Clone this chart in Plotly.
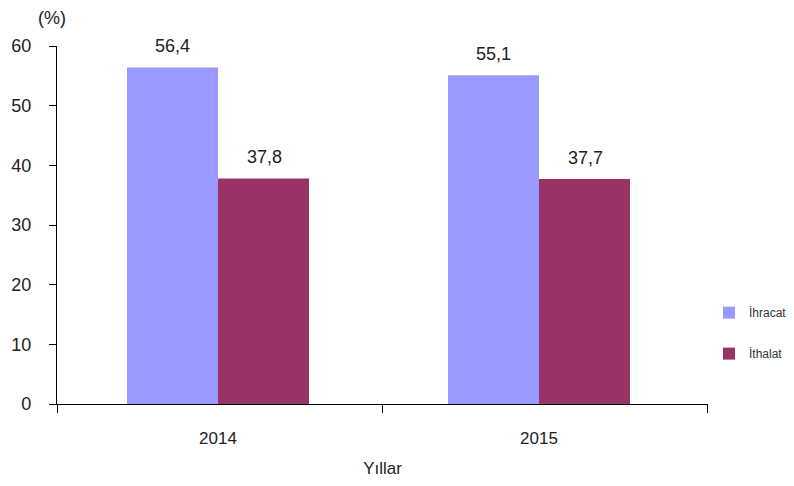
import plotly.graph_objects as go

years = ["2014", "2015"]
ihracat = [56.4, 55.1]
ithalat = [37.8, 37.7]
ihracat_labels = ["56,4", "55,1"]
ithalat_labels = ["37,8", "37,7"]

font = "Liberation Sans, Arial, sans-serif"
xpos = list(range(len(years)))
x_range = [-0.5016, 1.5265]
boundaries = [-0.5012, 0.511, 1.526]

fig = go.Figure()
fig.add_trace(go.Bar(
    x=xpos, y=ihracat, name="İhracat", marker_color="#9999FF",
    marker_line_width=0, legendgroup="a",
))
fig.add_trace(go.Bar(
    x=xpos, y=ithalat, name="İthalat", marker_color="#993366",
    marker_line_width=0, legendgroup="b",
))

annotations = [
    dict(text="(%)", xref="paper", yref="paper", x=-0.0077, y=1.0, yshift=28,
         showarrow=False, xanchor="center", yanchor="middle",
         font=dict(size=18, color="#222222")),
]
for i, (v, t) in enumerate(zip(ihracat, ihracat_labels)):
    annotations.append(dict(x=xpos[i], y=v, text=t, xref="x", yref="y",
                            showarrow=False, xshift=-46, yshift=21,
                            xanchor="center", yanchor="middle",
                            font=dict(size=18, color="#222222")))
for i, (v, t) in enumerate(zip(ithalat, ithalat_labels)):
    annotations.append(dict(x=xpos[i], y=v, text=t, xref="x", yref="y",
                            showarrow=False, xshift=46, yshift=21,
                            xanchor="center", yanchor="middle",
                            font=dict(size=18, color="#222222")))

fig.update_layout(
    width=786, height=478,
    margin=dict(l=49, r=86, t=38, b=82, autoexpand=False),
    paper_bgcolor="white", plot_bgcolor="white",
    barmode="group", bargap=0.433, bargroupgap=0,
    font=dict(family=font, size=16, color="#222222"),
    showlegend=True,
    legend=dict(x=1.0015, y=0.198, xanchor="left", yanchor="middle",
                font=dict(size=12, color="#333333"),
                tracegroupgap=22, itemwidth=30, traceorder="grouped",
                bgcolor="rgba(0,0,0,0)"),
    annotations=annotations,
)
fig.update_xaxes(
    range=x_range, tickmode="array", tickvals=xpos, ticktext=years,
    showline=True, linecolor="black", linewidth=1.3, automargin=False,
    ticks="", ticklabelstandoff=18,
    minor=dict(tickmode="array", tickvals=boundaries, ticks="outside",
               ticklen=8, tickcolor="black", tickwidth=1.3, showgrid=False),
    showgrid=False, zeroline=False, tickfont=dict(size=17),
    title=dict(text="Yıllar", font=dict(size=17), standoff=15),
)
fig.update_yaxes(
    range=[0, 60], dtick=10, showline=True, linecolor="black", linewidth=1.3,
    ticks="outside", ticklen=7, tickcolor="black", tickwidth=1.3,
    showgrid=False, automargin=False, ticklabelstandoff=14,
    zeroline=False, tickfont=dict(size=18),
)

fig.write_html("out.html")
